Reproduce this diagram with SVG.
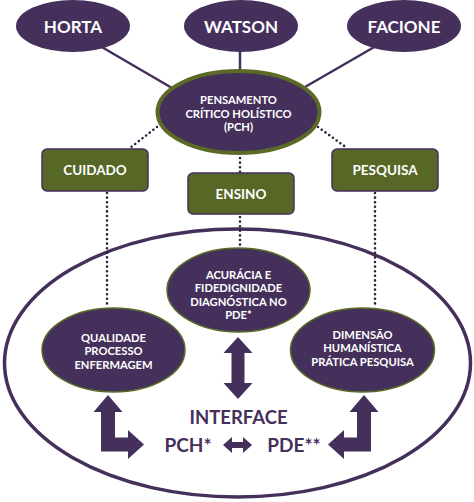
<svg xmlns="http://www.w3.org/2000/svg" width="474" height="502" viewBox="0 0 474 502">
<style>
.bg{fill:#ffffff}
.el{fill:#45305b}
.elg{fill:#45305b;stroke:#5b6b27;stroke-width:1.5}
.pch{fill:#45305b;stroke:#5b6b27;stroke-width:4}
.box{fill:#566726;stroke:#45305b;stroke-width:1.5}
.ln{stroke:#45305b;stroke-width:2.5;fill:none}
.dot{stroke:#2e2140;stroke-width:2.6;fill:none;stroke-linecap:round;stroke-dasharray:0 4.6}
.big{fill:none;stroke:#45305b;stroke-width:3.5}
.arr{fill:#45305b}
text{font-family:Lato,"Open Sans","Liberation Sans",sans-serif;font-weight:bold;text-anchor:middle}
.w{fill:#ffffff}
.t17{font-size:17px}
.t12{font-size:13.5px}
.t11{font-size:11.2px}
.p{fill:#45305b}
</style>
<rect class="bg" x="0" y="0" width="474" height="502"/>
<ellipse class="big" cx="237.5" cy="363" rx="233" ry="134"/>
<g id="connectors">
<line class="ln" x1="100" y1="46" x2="172" y2="88"/>
<line class="ln" x1="240" y1="50" x2="240" y2="72"/>
<line class="ln" x1="376" y1="46" x2="305" y2="87"/>
<line class="dot" x1="157" y1="127" x2="130" y2="148"/>
<line class="dot" x1="318" y1="127" x2="347" y2="148"/>
<line class="dot" x1="240" y1="158" x2="240" y2="172"/>
<line class="dot" x1="240" y1="217" x2="240" y2="246"/>
<line class="dot" x1="107" y1="193" x2="107" y2="307"/>
<line class="dot" x1="375" y1="193" x2="375" y2="306"/>
<polygon class="arr" points="238,337 252.5,353 244.5,353 244.5,383 252.5,383 238,399 223.5,383 231.5,383 231.5,353 223.5,353"/>
<polygon class="arr" points="223,445 232,437 232,442 243,442 243,437 252,445 243,453 243,448 232,448 232,453"/>
<polygon class="arr" points="108,395 122.5,412 115,412 115,437.5 128,437.5 128,430 144,444.5 128,459 128,451.5 101,451.5 101,412 93.5,412"/>
<polygon class="arr" points="364,395 378.5,412 371,412 371,451.5 344,451.5 344,459 328,444.5 344,430 344,437.5 357,437.5 357,412 349.5,412"/>
</g>
<g id="horta"><ellipse class="el" cx="73" cy="26" rx="57" ry="26"/><text class="w t17" x="73" y="33">HORTA</text></g>
<g id="watson"><ellipse class="el" cx="241" cy="26" rx="57" ry="26"/><text class="w t17" x="241" y="33">WATSON</text></g>
<g id="facione"><ellipse class="el" cx="404" cy="26" rx="57" ry="26"/><text class="w t17" x="404" y="33">FACIONE</text></g>
<g id="pch"><ellipse class="pch" cx="238.5" cy="112" rx="81" ry="41"/>
<text class="w t11" x="238.5" y="104">PENSAMENTO</text>
<text class="w t11" x="238.5" y="117.5">CRÍTICO HOLÍSTICO</text>
<text class="w t11" x="238.5" y="131">(PCH)</text></g>
<g id="cuidado"><rect class="box" x="42" y="149" width="106" height="42" rx="5"/><text class="w t12" x="95" y="175">CUIDADO</text></g>
<g id="ensino"><rect class="box" x="188" y="173" width="106" height="41" rx="5"/><text class="w t12" x="241" y="199">ENSINO</text></g>
<g id="pesquisa"><rect class="box" x="332" y="149" width="106" height="42" rx="5"/><text class="w t12" x="385" y="175">PESQUISA</text></g>
<g id="acuracia"><ellipse class="elg" cx="238.5" cy="290" rx="71.5" ry="42"/>
<text class="w t11" x="238.5" y="278.5">ACURÁCIA E</text>
<text class="w t11" x="238.5" y="292">FIDEDIGNIDADE</text>
<text class="w t11" x="238.5" y="305.5">DIAGNÓSTICA NO</text>
<text class="w t11" x="238.5" y="319">PDE*</text></g>
<g id="qualidade"><ellipse class="elg" cx="113.5" cy="350" rx="71.5" ry="42"/>
<text class="w t11" x="113.5" y="341.5">QUALIDADE</text>
<text class="w t11" x="113.5" y="355">PROCESSO</text>
<text class="w t11" x="113.5" y="368.5">ENFERMAGEM</text></g>
<g id="dimensao"><ellipse class="elg" cx="362.5" cy="350" rx="72" ry="42"/>
<text class="w t11" x="362.5" y="338.5">DIMENSÃO</text>
<text class="w t11" x="362.5" y="352">HUMANÍSTICA</text>
<text class="w t11" x="362.5" y="365.5">PRÁTICA PESQUISA</text></g>
<g id="interface">
<text class="p" x="238.5" y="424" style="font-size:18.5px">INTERFACE</text>
<text class="p" x="188" y="452" style="font-size:19px">PCH*</text>
<text class="p" x="294" y="452" style="font-size:19px">PDE**</text>
</g>
</svg>
